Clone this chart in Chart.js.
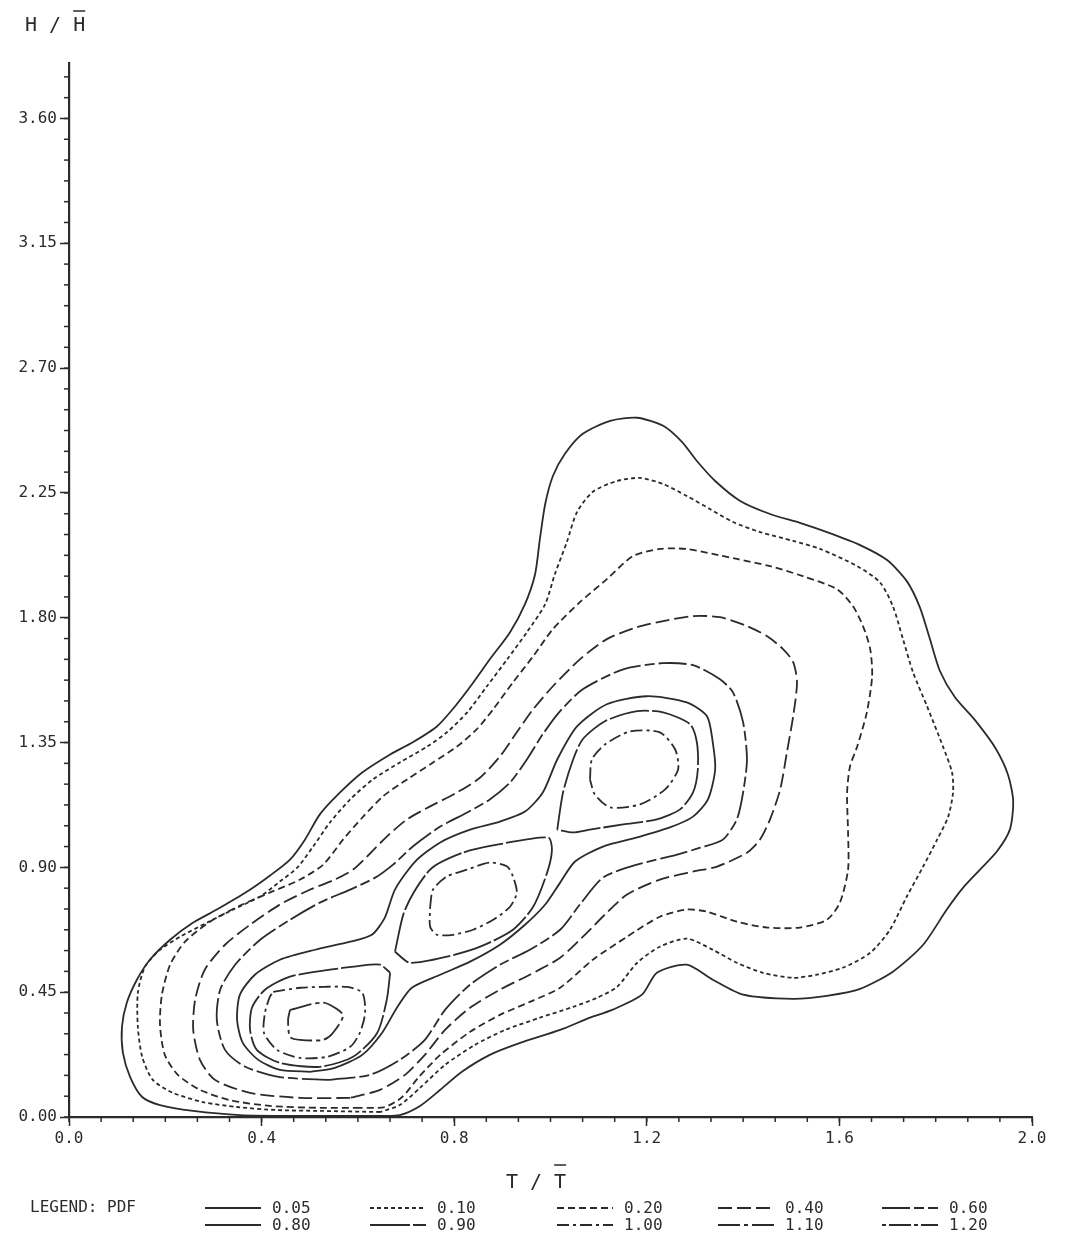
<!DOCTYPE html>
<html>
<head>
<meta charset="utf-8">
<title>PDF T/T - H/H</title>
<script src="https://cdn.jsdelivr.net/npm/chart.js@4.4.1/dist/chart.umd.min.js"></script>
<style>
  html, body { margin: 0; padding: 0; background: #fff; }
  #wrap { width: 1081px; height: 1240px; position: relative; }
</style>
</head>
<body>
<div id="wrap"><canvas id="contours"></canvas></div>
<script>
// contour levels of the joint pdf and axis ticks
const levels = ['0.05', '0.10', '0.20', '0.40', '0.60', '0.80', '0.90', '1.00', '1.10', '1.20'];
const xTicks = [0, 0.4, 0.8, 1.2, 1.6, 2.0];
const yTicks = [0, 0.45, 0.90, 1.35, 1.80, 2.25, 2.70, 3.15, 3.60];

// each ring is a list of [T/Tbar, H/Hbar]
const pdf005 = [[0.646,0.004],[0.480,0.004],[0.355,0.007],[0.258,0.022],[0.189,0.043],[0.152,0.072],[0.127,0.144],[0.112,0.231],[0.110,0.325],[0.120,0.412],[0.141,0.495],[0.168,0.567],[0.210,0.639],[0.258,0.701],[0.307,0.748],[0.370,0.813],[0.417,0.870],[0.459,0.928],[0.490,1.000],[0.521,1.091],[0.563,1.170],[0.609,1.242],[0.667,1.307],[0.714,1.351],[0.764,1.408],[0.802,1.481],[0.837,1.560],[0.874,1.650],[0.916,1.748],[0.947,1.849],[0.968,1.957],[0.978,2.084],[0.989,2.210],[1.005,2.311],[1.030,2.391],[1.067,2.463],[1.124,2.510],[1.180,2.521],[1.234,2.492],[1.273,2.434],[1.304,2.365],[1.342,2.293],[1.394,2.221],[1.456,2.174],[1.518,2.142],[1.580,2.105],[1.643,2.062],[1.699,2.008],[1.740,1.932],[1.767,1.838],[1.788,1.723],[1.809,1.607],[1.840,1.513],[1.882,1.430],[1.923,1.333],[1.950,1.235],[1.961,1.138],[1.954,1.036],[1.927,0.957],[1.892,0.892],[1.857,0.827],[1.823,0.748],[1.774,0.621],[1.711,0.524],[1.643,0.462],[1.574,0.437],[1.504,0.426],[1.400,0.441],[1.337,0.495],[1.283,0.549],[1.221,0.520],[1.190,0.441],[1.128,0.386],[1.082,0.358],[1.020,0.314],[0.937,0.267],[0.874,0.224],[0.816,0.163],[0.771,0.098],[0.729,0.040],[0.687,0.007]];
const pdf010 = [[0.646,0.018],[0.521,0.022],[0.432,0.025],[0.349,0.036],[0.278,0.054],[0.216,0.087],[0.174,0.134],[0.152,0.217],[0.143,0.325],[0.143,0.448],[0.158,0.542],[0.189,0.603],[0.231,0.650],[0.287,0.701],[0.341,0.748],[0.397,0.795],[0.438,0.849],[0.474,0.899],[0.507,0.975],[0.542,1.062],[0.584,1.145],[0.631,1.217],[0.687,1.278],[0.744,1.336],[0.785,1.387],[0.827,1.459],[0.868,1.553],[0.910,1.650],[0.951,1.748],[0.989,1.849],[1.009,1.957],[1.034,2.073],[1.055,2.181],[1.088,2.254],[1.138,2.293],[1.186,2.304],[1.234,2.282],[1.283,2.239],[1.331,2.192],[1.379,2.145],[1.435,2.109],[1.504,2.077],[1.560,2.048],[1.637,1.986],[1.684,1.928],[1.711,1.842],[1.732,1.723],[1.753,1.603],[1.782,1.481],[1.815,1.336],[1.834,1.242],[1.836,1.170],[1.826,1.083],[1.803,1.000],[1.774,0.903],[1.740,0.795],[1.705,0.675],[1.664,0.592],[1.607,0.538],[1.553,0.513],[1.504,0.502],[1.441,0.520],[1.387,0.556],[1.337,0.603],[1.283,0.643],[1.227,0.614],[1.180,0.556],[1.138,0.469],[1.097,0.430],[1.047,0.397],[0.978,0.358],[0.906,0.314],[0.843,0.260],[0.781,0.188],[0.729,0.105],[0.687,0.043]];
const pdf020 = [[0.604,0.033],[0.521,0.033],[0.417,0.040],[0.334,0.061],[0.272,0.098],[0.226,0.152],[0.199,0.224],[0.189,0.332],[0.193,0.441],[0.210,0.549],[0.241,0.632],[0.293,0.704],[0.355,0.762],[0.417,0.809],[0.480,0.856],[0.528,0.910],[0.569,1.000],[0.611,1.083],[0.652,1.156],[0.702,1.217],[0.756,1.278],[0.806,1.336],[0.847,1.398],[0.881,1.470],[0.922,1.567],[0.964,1.661],[1.005,1.759],[1.061,1.856],[1.117,1.939],[1.171,2.022],[1.227,2.048],[1.283,2.048],[1.337,2.030],[1.387,2.012],[1.456,1.986],[1.524,1.950],[1.595,1.903],[1.628,1.842],[1.649,1.770],[1.664,1.687],[1.668,1.589],[1.657,1.459],[1.637,1.336],[1.622,1.264],[1.616,1.170],[1.618,1.026],[1.618,0.892],[1.601,0.773],[1.574,0.711],[1.518,0.683],[1.450,0.683],[1.387,0.704],[1.325,0.740],[1.283,0.748],[1.227,0.722],[1.159,0.650],[1.088,0.567],[1.020,0.466],[0.957,0.415],[0.895,0.368],[0.833,0.307],[0.771,0.224],[0.725,0.141],[0.692,0.072],[0.656,0.036]];
const pdf040 = [[0.584,0.069],[0.480,0.069],[0.376,0.087],[0.303,0.134],[0.272,0.206],[0.258,0.314],[0.262,0.423],[0.282,0.531],[0.324,0.621],[0.376,0.693],[0.438,0.766],[0.501,0.820],[0.552,0.856],[0.590,0.892],[0.619,0.939],[0.660,1.011],[0.702,1.073],[0.750,1.120],[0.806,1.170],[0.854,1.224],[0.895,1.300],[0.930,1.387],[0.964,1.470],[1.005,1.553],[1.061,1.650],[1.117,1.723],[1.180,1.766],[1.234,1.788],[1.296,1.806],[1.352,1.802],[1.408,1.770],[1.450,1.733],[1.483,1.687],[1.504,1.640],[1.512,1.567],[1.504,1.445],[1.491,1.315],[1.477,1.181],[1.456,1.073],[1.435,1.000],[1.408,0.953],[1.346,0.903],[1.296,0.885],[1.227,0.856],[1.159,0.802],[1.113,0.730],[1.076,0.665],[1.020,0.574],[0.957,0.513],[0.895,0.459],[0.833,0.394],[0.781,0.314],[0.739,0.224],[0.698,0.152],[0.646,0.098]];
const pdf060 = [[0.542,0.134],[0.438,0.144],[0.366,0.181],[0.324,0.242],[0.307,0.350],[0.314,0.459],[0.345,0.549],[0.397,0.639],[0.459,0.711],[0.521,0.773],[0.584,0.820],[0.636,0.863],[0.673,0.910],[0.714,0.975],[0.771,1.047],[0.827,1.098],[0.874,1.145],[0.916,1.206],[0.951,1.289],[0.984,1.380],[1.020,1.463],[1.067,1.542],[1.151,1.614],[1.232,1.636],[1.296,1.629],[1.352,1.578],[1.379,1.531],[1.400,1.423],[1.408,1.289],[1.400,1.170],[1.387,1.073],[1.358,1.000],[1.311,0.971],[1.263,0.946],[1.180,0.910],[1.109,0.863],[1.061,0.766],[1.020,0.675],[0.957,0.603],[0.895,0.549],[0.833,0.477],[0.781,0.386],[0.739,0.278],[0.687,0.206],[0.625,0.152]];
const pdf080 = [[0.501,0.163],[0.438,0.170],[0.393,0.206],[0.361,0.267],[0.349,0.350],[0.355,0.441],[0.386,0.513],[0.438,0.567],[0.511,0.603],[0.584,0.632],[0.629,0.657],[0.656,0.719],[0.677,0.820],[0.719,0.921],[0.771,0.990],[0.833,1.036],[0.895,1.065],[0.947,1.101],[0.984,1.170],[1.014,1.289],[1.055,1.408],[1.117,1.488],[1.200,1.517],[1.283,1.495],[1.325,1.445],[1.337,1.351],[1.342,1.253],[1.327,1.145],[1.296,1.083],[1.248,1.044],[1.180,1.008],[1.109,0.975],[1.051,0.921],[1.020,0.845],[0.989,0.766],[0.947,0.693],[0.895,0.621],[0.833,0.560],[0.771,0.513],[0.712,0.466],[0.681,0.394],[0.650,0.303],[0.609,0.224],[0.552,0.177]];
const pdf090a = [[0.667,0.520],[0.660,0.423],[0.640,0.303],[0.590,0.217],[0.521,0.181],[0.438,0.195],[0.390,0.242],[0.376,0.314],[0.380,0.394],[0.407,0.459],[0.459,0.506],[0.542,0.531],[0.604,0.545],[0.646,0.549]];
const pdf090b = [[0.677,0.596],[0.698,0.748],[0.750,0.892],[0.818,0.953],[0.889,0.982],[0.995,1.008],[1.003,0.964],[0.993,0.881],[0.964,0.758],[0.922,0.675],[0.854,0.614],[0.785,0.578],[0.708,0.556]];
const pdf090c = [[1.014,1.036],[1.026,1.170],[1.047,1.289],[1.067,1.362],[1.113,1.427],[1.180,1.463],[1.234,1.459],[1.290,1.416],[1.304,1.351],[1.306,1.253],[1.296,1.170],[1.269,1.109],[1.221,1.073],[1.151,1.055],[1.082,1.036],[1.047,1.026]];
const pdf100a = [[0.424,0.451],[0.480,0.466],[0.528,0.469],[0.577,0.469],[0.609,0.448],[0.615,0.376],[0.604,0.303],[0.584,0.253],[0.536,0.217],[0.480,0.213],[0.432,0.242],[0.405,0.303],[0.407,0.376],[0.417,0.433]];
const pdf100b = [[0.750,0.758],[0.756,0.820],[0.785,0.867],[0.827,0.892],[0.874,0.917],[0.910,0.903],[0.922,0.867],[0.930,0.809],[0.916,0.758],[0.881,0.711],[0.839,0.675],[0.798,0.657],[0.764,0.657],[0.750,0.686]];
const pdf100c = [[1.082,1.217],[1.086,1.289],[1.113,1.343],[1.165,1.390],[1.227,1.387],[1.259,1.325],[1.265,1.253],[1.238,1.181],[1.186,1.127],[1.124,1.116],[1.092,1.163]];
const pdf110a = [[0.459,0.386],[0.528,0.412],[0.569,0.368],[0.548,0.303],[0.528,0.278],[0.480,0.278],[0.459,0.289],[0.455,0.350]];

const rings = [
  ['0.05', pdf005], ['0.10', pdf010], ['0.20', pdf020], ['0.40', pdf040],
  ['0.60', pdf060], ['0.80', pdf080],
  ['0.90', pdf090a], ['0.90', pdf090b], ['0.90', pdf090c],
  ['1.00', pdf100a], ['1.00', pdf100b], ['1.00', pdf100c],
  ['1.10', pdf110a]
];

// plotter pen styles per level
const dashes = {
  '0.05': [], '0.10': [4, 3], '0.20': [7, 4], '0.40': [14, 5], '0.60': [28, 4, 10, 4],
  '0.80': [], '0.90': [40, 3], '1.00': [12, 4, 3, 4], '1.10': [22, 4, 4, 4], '1.20': [4, 3, 22, 3]
};
const ink = '#2b2b2b';
const mono = '"DejaVu Sans Mono", monospace';

const datasets = rings.map(([lvl, pts]) => ({
  label: lvl,
  data: pts.concat([pts[0]]).map(p => ({ x: p[0], y: p[1] })),
  showLine: true,
  pointRadius: 0,
  borderColor: ink,
  borderWidth: 1.8,
  borderDash: dashes[lvl],
  tension: 0.25,
  fill: false
}));

// minor ticks, axis titles and the plotter legend
const extras = {
  id: 'extras',
  afterDraw(chart) {
    const ctx = chart.ctx;
    const xs = chart.scales.x, ys = chart.scales.y;
    const area = chart.chartArea;
    ctx.save();
    ctx.strokeStyle = ink;
    ctx.lineWidth = 1.5;
    for (let i = 0; i <= 30; i++) {
      const px = xs.getPixelForValue(i * 0.4 / 6);
      ctx.beginPath(); ctx.moveTo(px, area.bottom); ctx.lineTo(px, area.bottom + 5); ctx.stroke();
    }
    for (let i = 0; i * 0.075 <= 3.8; i++) {
      const py = ys.getPixelForValue(i * 0.075);
      ctx.beginPath(); ctx.moveTo(area.left - 5, py); ctx.lineTo(area.left, py); ctx.stroke();
    }

    ctx.fillStyle = ink;
    ctx.font = '20px ' + mono;
    ctx.textBaseline = 'alphabetic';
    // y title with overbar
    ctx.textAlign = 'left';
    ctx.fillText('H / H', 25, 31);
    const hw = ctx.measureText('H / H').width, hc = ctx.measureText('H').width;
    ctx.beginPath(); ctx.moveTo(25 + hw - hc, 11); ctx.lineTo(25 + hw, 11); ctx.stroke();
    // x title with overbar
    ctx.textAlign = 'center';
    const cx = xs.getPixelForValue(0.97);
    ctx.fillText('T / T', cx, 1188);
    const tw = ctx.measureText('T / T').width, tc = ctx.measureText('T').width;
    ctx.beginPath(); ctx.moveTo(cx + tw / 2 - tc, 1165); ctx.lineTo(cx + tw / 2, 1165); ctx.stroke();

    // legend
    ctx.font = '16px ' + mono;
    ctx.textAlign = 'left';
    ctx.textBaseline = 'middle';
    ctx.fillText('LEGEND: PDF', 30, 1208);
    const cols = [205, 370, 557, 718, 882];
    levels.forEach((lvl, i) => {
      const x0 = cols[i % 5];
      const y = 1208 + Math.floor(i / 5) * 17;
      ctx.setLineDash(dashes[lvl]);
      ctx.lineWidth = 1.8;
      ctx.beginPath(); ctx.moveTo(x0, y); ctx.lineTo(x0 + 56, y); ctx.stroke();
      ctx.setLineDash([]);
      ctx.fillText(lvl, x0 + 67, y + 1);
    });
    ctx.restore();
  }
};

new Chart(document.getElementById('contours').getContext('2d'), {
  type: 'scatter',
  data: { datasets },
  plugins: [extras],
  options: {
    responsive: true,
    maintainAspectRatio: false,
    animation: false,
    layout: { padding: { left: 0, top: 63, right: 49, bottom: 0 } },
    plugins: { legend: { display: false }, tooltip: { enabled: false } },
    scales: {
      x: {
        type: 'linear', min: 0, max: 2,
        afterFit: s => { s.height = 123; },
        afterBuildTicks: s => { s.ticks = xTicks.map(v => ({ value: v })); },
        ticks: { color: ink, font: { family: mono, size: 16 }, padding: 3, callback: v => v.toFixed(1) },
        grid: { drawOnChartArea: false, tickLength: 9, tickColor: ink, tickWidth: 1.5 },
        border: { display: true, color: ink, width: 2.2 }
      },
      y: {
        type: 'linear', min: 0, max: 3.8,
        afterFit: s => { s.width = 69; },
        afterBuildTicks: s => { s.ticks = yTicks.map(v => ({ value: v })); },
        ticks: { color: ink, font: { family: mono, size: 16 }, padding: 3, callback: v => v.toFixed(2) },
        grid: { drawOnChartArea: false, tickLength: 9, tickColor: ink, tickWidth: 1.5 },
        border: { display: true, color: ink, width: 2.2 }
      }
    }
  }
});
</script>
</body>
</html>
